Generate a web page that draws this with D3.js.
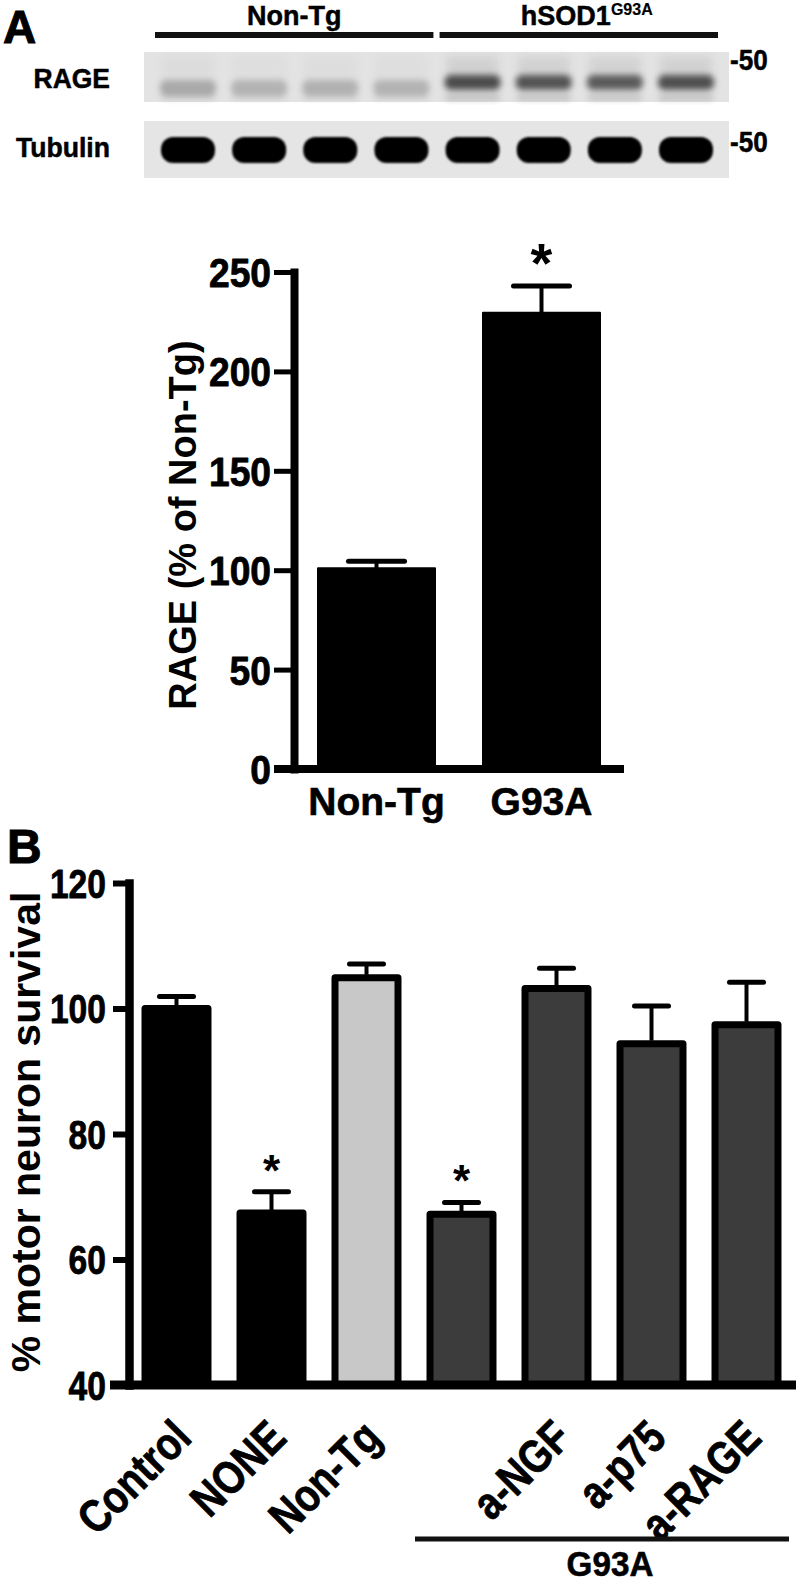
<!DOCTYPE html>
<html><head><meta charset="utf-8">
<script src="https://cdn.jsdelivr.net/npm/d3@7"></script>
<style>
body{margin:0;background:#fff}
text{font-family:"Liberation Sans",Arial,Helvetica,sans-serif;font-weight:bold;fill:#000}
</style>
</head><body>
<svg id="c" width="800" height="1583" xmlns="http://www.w3.org/2000/svg"></svg>
<script>
// ---------- DATA ----------
// Western blot (panel A, top)
const blotLanes = ["NT1","NT2","NT3","NT4","G1","G2","G3","G4"];
const blotLaneGroup = ["Non-Tg","Non-Tg","Non-Tg","Non-Tg","hSOD1","hSOD1","hSOD1","hSOD1"];
const rageDensity = [0.30,0.25,0.26,0.25,0.78,0.74,0.70,0.76];
const tubulinDensity = [1,1,1,1,1,1,1,1];
const blotRows = ["RAGE","Tubulin"];
const markerLabel = "-50";

// Panel A bar chart
const aCategories = ["Non-Tg","G93A"];
const aValues = [101,229.5];
const aErrors = [3.5,13.5];
const aSignif = [false,true];
const aTicks = [0,50,100,150,200,250];

// Panel B bar chart
const bCategories = ["Control","NONE","Non-Tg","G93A","a-NGF","a-p75","a-RAGE"];
const bLabels = ["Control","NONE","Non-Tg","","a-NGF","a-p75","a-RAGE"];
const bValues = [100,67.4,104.9,67.2,103.2,94.4,97.4];
const bErrors = [1.9,3.4,2.2,1.9,3.2,6.0,6.8];
const bSignif = [false,true,false,true,false,false,false];
const bGroup = ["ctrl","ctrl","nontg","g93a","g93a","g93a","g93a"];
const bTicks = [40,60,80,100,120];

// ---------- HELPERS ----------
function condense(sel, f, heavy){
  sel.each(function(){
    const w = this.getComputedTextLength();
    d3.select(this).attr("textLength", w*f).attr("lengthAdjust","spacingAndGlyphs");
  });
  if (heavy) sel.attr("stroke","#000").attr("stroke-width",heavy).attr("stroke-linejoin","round");
}

// ---------- DRAW ----------
const svg = d3.select("#c");
const defs = svg.append("defs");
defs.append("filter").attr("id","blurR").attr("x","-50%").attr("y","-100%").attr("width","200%").attr("height","300%")
  .append("feGaussianBlur").attr("stdDeviation",3);
defs.append("filter").attr("id","blurS").attr("x","-50%").attr("y","-100%").attr("width","200%").attr("height","300%")
  .append("feGaussianBlur").attr("stdDeviation",4.5);
defs.append("filter").attr("id","blurT").attr("x","-20%").attr("y","-50%").attr("width","140%").attr("height","200%")
  .append("feGaussianBlur").attr("stdDeviation",1.3);

// ===== Blot =====
const xLane = d3.scalePoint().domain(blotLanes).range([188,686]);
const blot = svg.append("g");
blot.append("text").attr("x",3).attr("y",43).style("font-size","46px").text("A")
  .attr("stroke","#000").attr("stroke-width",1);

const grpNames = ["Non-Tg","hSOD1"];
grpNames.forEach(g=>{
  const ls = blotLanes.filter((l,i)=>blotLaneGroup[i]===g);
  const x1 = xLane(ls[0]) - 33, x2 = xLane(ls[ls.length-1]) + 32;
  blot.append("line").attr("x1",x1).attr("x2",x2).attr("y1",35).attr("y2",35)
    .attr("stroke","#111").attr("stroke-width",6);
  const t = blot.append("text").attr("x",(x1+x2)/2 + (g==="hSOD1"?8:0)).attr("y",25)
    .attr("text-anchor","middle").style("font-size","27px")
    .attr("stroke","#000").attr("stroke-width",0.5);
  if (g==="hSOD1") {
    t.append("tspan").text("hSOD1");
    t.append("tspan").attr("dy",-10).style("font-size","16px").attr("stroke-width",0.2).text("G93A");
  } else t.text(g);
});

const rowBox = {RAGE:[52,102], Tubulin:[121,178]};
const bx1 = xLane(blotLanes[0]) - 44, bx2 = xLane(blotLanes[blotLanes.length-1]) + 43;
blotRows.forEach(r=>{
  const [y1,y2] = rowBox[r];
  blot.append("rect").attr("x",bx1).attr("y",y1).attr("width",bx2-bx1).attr("height",y2-y1)
    .attr("fill", r==="RAGE" ? "#e3e3e3" : "#e5e5e5");
  const lt = blot.append("text").attr("x",110).attr("y", r==="RAGE"?88:157).attr("text-anchor","end")
    .style("font-size", r==="RAGE"?"27px":"28px").text(r);
  condense(lt, r==="RAGE"?0.98:0.95, 0.5);
  const mt = blot.append("text").attr("x",bx2+1).attr("y", r==="RAGE"?70:152)
    .style("font-size","29px").text(markerLabel);
  condense(mt, 0.9, 0.5);
});

// RAGE bands
const rg = blot.append("g");
blotLanes.forEach((l,i)=>{
  const x = xLane(l), d = rageDensity[i], tg = blotLaneGroup[i]==="hSOD1";
  rg.append("rect").attr("x",x-26).attr("y",56).attr("width",52).attr("height",22)
    .attr("fill","#000").attr("fill-opacity",d*0.10).attr("filter","url(#blurS)");
  rg.append("rect").attr("x",x-28).attr("y",tg?75:80).attr("width",56).attr("height",tg?15:16).attr("rx",6)
    .attr("fill","#000").attr("fill-opacity",d*0.85).attr("filter","url(#blurR)");
  rg.append("rect").attr("x",x-27).attr("y",95).attr("width",54).attr("height",5)
    .attr("fill","#000").attr("fill-opacity",d*0.25).attr("filter","url(#blurR)");
});
// Tubulin bands
blotLanes.forEach((l,i)=>{
  const x = xLane(l);
  blot.append("rect").attr("x",x-27).attr("y",137).attr("width",54).attr("height",26).attr("rx",12)
    .attr("fill","#000").attr("fill-opacity",tubulinDensity[i]).attr("filter","url(#blurT)");
});

// ===== Panel A bar chart =====
const yA = d3.scaleLinear().domain([0,250]).range([769,272]);
const xA = d3.scalePoint().domain(aCategories).range([294,624]).padding(0.5);
const barWA = 117;
const gA = svg.append("g");

gA.selectAll("rect.bar").data(aCategories).join("rect")
  .attr("x",d=>xA(d)-barWA/2).attr("width",barWA)
  .attr("y",(d,i)=>yA(aValues[i])).attr("height",(d,i)=>yA(0)-yA(aValues[i]))
  .attr("fill","#000").attr("stroke","#000").attr("stroke-width",2).attr("stroke-linejoin","round");

aCategories.forEach((c,i)=>{
  const x = xA(c), top = yA(aValues[i]+aErrors[i]);
  gA.append("line").attr("x1",x).attr("x2",x).attr("y1",yA(aValues[i])).attr("y2",top)
    .attr("stroke","#000").attr("stroke-width",4);
  gA.append("line").attr("x1",x-28).attr("x2",x+28).attr("y1",top).attr("y2",top)
    .attr("stroke","#000").attr("stroke-width",5).attr("stroke-linecap","round");
  if (aSignif[i]) gA.append("text").attr("x",x).attr("y",top-4).attr("text-anchor","middle")
    .style("font-size","56px").text("*");
});

const axA = gA.append("g").attr("transform","translate(294,0)")
  .call(d3.axisLeft(yA).tickValues(aTicks).tickSize(20).tickSizeOuter(0).tickPadding(3));
axA.attr("font-family",null).attr("font-size",null);
axA.select(".domain").attr("stroke","#000").attr("stroke-width",8).attr("stroke-linecap","square");
axA.selectAll(".tick line").attr("stroke","#000").attr("stroke-width",5);
axA.selectAll(".tick text").style("font-size","40px").attr("dy","0.36em");
condense(axA.selectAll(".tick text"), 0.93, 0.8);

gA.append("line").attr("x1",274).attr("x2",624).attr("y1",yA(0)).attr("y2",yA(0))
  .attr("stroke","#000").attr("stroke-width",8);
gA.append("line").attr("x1",294).attr("x2",294).attr("y1",yA(0)).attr("y2",yA(0)+4)
  .attr("stroke","#000").attr("stroke-width",8);

gA.selectAll("text.xl").data(aCategories).join("text").attr("class","xl")
  .attr("x",d=>xA(d)).attr("y",815).attr("text-anchor","middle").style("font-size","39px").text(d=>d)
  .attr("stroke","#000").attr("stroke-width",0.6);

gA.append("text").attr("transform","translate(196,525) rotate(-90)").attr("text-anchor","middle")
  .style("font-size","38px").text("RAGE (% of Non-Tg)");

// ===== Panel B bar chart =====
const yB = d3.scaleLinear().domain([40,120]).range([1385,883]);
const xB = d3.scaleBand().domain(bCategories).range([129,794]).paddingInner(0.337).paddingOuter(0.1685);
const fillB = {ctrl:"#000", nontg:"#c8c8c8", g93a:"#3c3c3c"};
const gB = svg.append("g");

gB.append("text").attr("x",7).attr("y",863).style("font-size","48px").text("B")
  .attr("stroke","#000").attr("stroke-width",1);

gB.selectAll("rect.bar").data(bCategories).join("rect")
  .attr("x",d=>xB(d)).attr("width",xB.bandwidth())
  .attr("y",(d,i)=>yB(bValues[i])).attr("height",(d,i)=>yB(40)-yB(bValues[i]))
  .attr("fill",(d,i)=>fillB[bGroup[i]]).attr("stroke","#000").attr("stroke-width",7)
  .attr("stroke-linejoin","round");

bCategories.forEach((c,i)=>{
  const x = xB(c)+xB.bandwidth()/2, top = yB(bValues[i]+bErrors[i]);
  gB.append("line").attr("x1",x).attr("x2",x).attr("y1",yB(bValues[i])-3).attr("y2",top)
    .attr("stroke","#000").attr("stroke-width",4);
  gB.append("line").attr("x1",x-17).attr("x2",x+17).attr("y1",top).attr("y2",top)
    .attr("stroke","#000").attr("stroke-width",5).attr("stroke-linecap","round");
  if (bSignif[i]) gB.append("text").attr("x",x).attr("y",top-6).attr("text-anchor","middle")
    .style("font-size","44px").text("*");
});

const axB = gB.append("g").attr("transform","translate(129,0)")
  .call(d3.axisLeft(yB).tickValues(bTicks).tickSize(16).tickSizeOuter(0).tickPadding(7));
axB.attr("font-family",null).attr("font-size",null);
axB.select(".domain").attr("stroke","#000").attr("stroke-width",8.5).attr("stroke-linecap","square");
axB.selectAll(".tick line").attr("stroke","#000").attr("stroke-width",6);
axB.selectAll(".tick text").style("font-size","40px").attr("dy","0.36em");
condense(axB.selectAll(".tick text"), 0.84, 0.8);

gB.append("line").attr("x1",110).attr("x2",796).attr("y1",yB(40)).attr("y2",yB(40))
  .attr("stroke","#000").attr("stroke-width",9);

const xlB = gB.selectAll("text.xl").data(bCategories).join("text").attr("class","xl")
  .attr("transform",d=>`translate(${xB(d)+xB.bandwidth()/2+17},1440) rotate(-45)`)
  .attr("text-anchor","end").style("font-size","46px").text((d,i)=>bLabels[i]);
condense(xlB.filter((d,i)=>bLabels[i]!==""), 0.84, 0.8);

const gx1 = xB("G93A") - 15, gx2 = xB("a-RAGE") + xB.bandwidth() + 11;
gB.append("line").attr("x1",gx1).attr("x2",gx2).attr("y1",1539).attr("y2",1539)
  .attr("stroke","#111").attr("stroke-width",5);
const gl = gB.append("text").attr("x",(gx1+gx2)/2+8).attr("y",1576).attr("text-anchor","middle")
  .style("font-size","35px").text("G93A");
condense(gl, 0.95, 0.6);

gB.append("text").attr("transform","translate(40,1132) rotate(-90)").attr("text-anchor","middle")
  .style("font-size","41px").text("% motor neuron survival");
</script>
</body></html>
